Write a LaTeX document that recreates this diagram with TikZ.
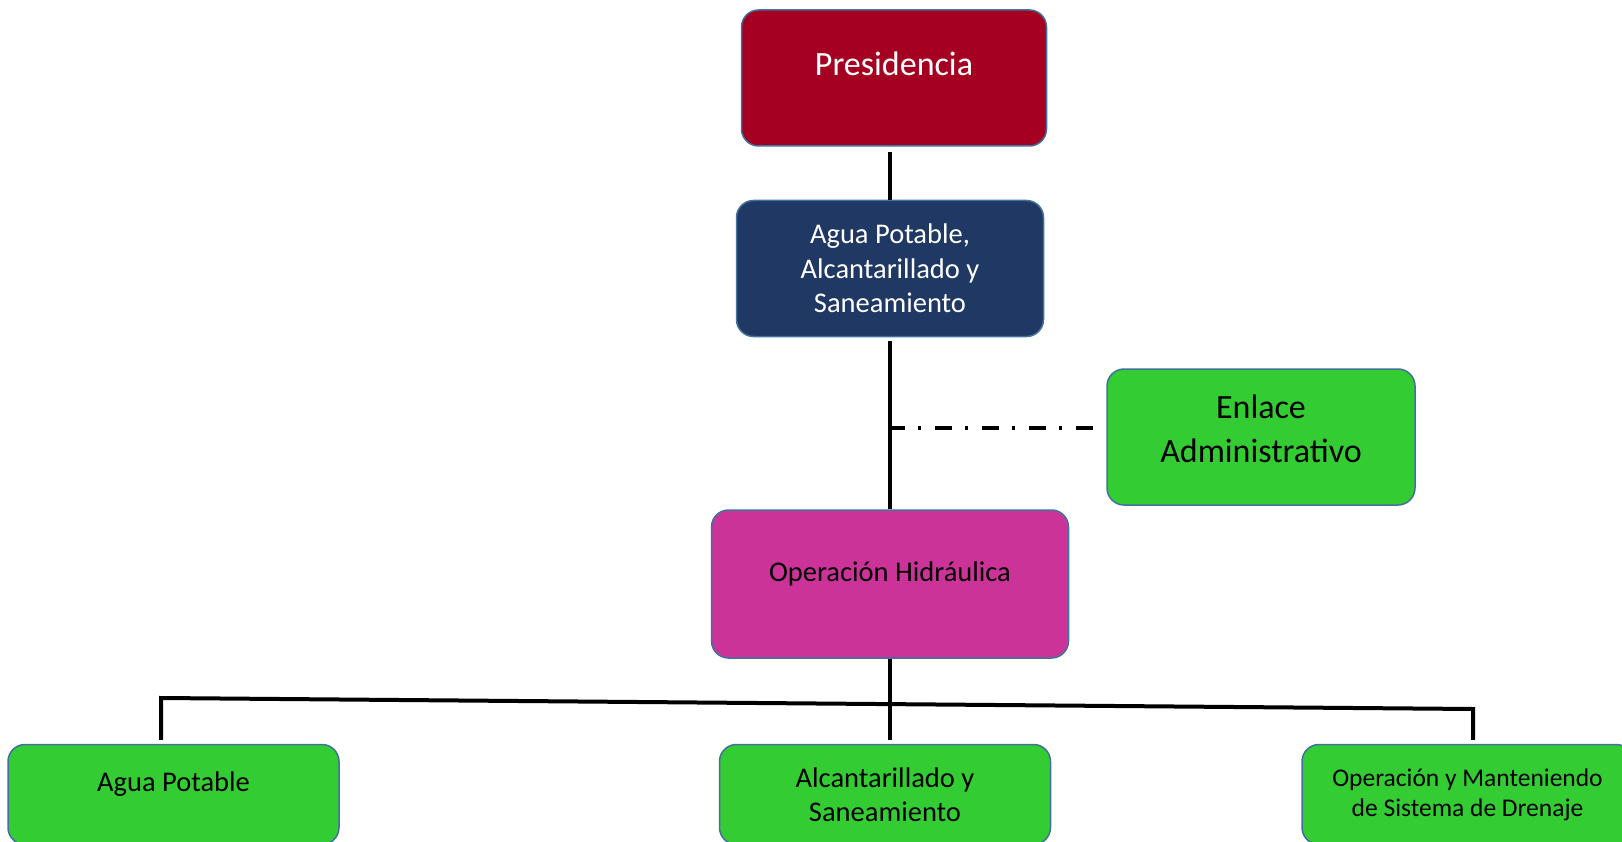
\documentclass[tikz,border=0pt]{standalone}
\usepackage{fontspec}
\setmainfont{Carlito}
\usetikzlibrary{positioning}

\definecolor{presred}{HTML}{A50021}
\definecolor{dirblue}{HTML}{203864}
\definecolor{unitgreen}{HTML}{33CC33}
\definecolor{opmagenta}{HTML}{CC3399}
\definecolor{boxedge}{HTML}{41719C}

\begin{document}
\begin{tikzpicture}[x=1pt, y=-1pt, node distance=53pt]

\tikzstyle{unit}=[rectangle, rounded corners=17pt, draw=boxedge,
  line width=1.5pt, inner sep=0pt, align=center]
\tikzstyle{presbox}=[unit, fill=presred, text=white, minimum width=305pt,
  font=\fontsize{34}{41}\selectfont, text height=66pt, text depth=70pt]
\tikzstyle{dirbox}=[unit, fill=dirblue, text=white, minimum width=307pt,
  minimum height=136pt, font=\fontsize{28.5}{34.5}\selectfont]
\tikzstyle{opbox}=[unit, fill=opmagenta, minimum width=357pt,
  font=\fontsize{28.5}{34.5}\selectfont, text height=71pt, text depth=77pt]
\tikzstyle{enlbox}=[unit, fill=unitgreen, minimum width=308pt,
  font=\fontsize{34}{44}\selectfont, text height=93pt, text depth=43pt]
\tikzstyle{subbox}=[unit, fill=unitgreen, minimum width=331pt,
  minimum height=100pt, font=\fontsize{28.5}{34}\selectfont]

\tikzstyle{link}=[line width=4pt, draw=black]
\tikzstyle{linkdash}=[line width=3.5pt, draw=black,
  dash pattern=on 17pt off 12.5pt on 3.5pt off 14pt, dash phase=2pt]

\useasboundingbox (0,0) rectangle (1622,842);

\node[presbox] (pres) at (894,78) {Presidencia};
\node[dirbox, below=of pres, xshift=-4pt] (aps) {Agua Potable,\\Alcantarillado y\\Saneamiento};
\draw[link, shorten <=5pt] (pres.south -| aps.north) -- (aps.north);

\node[opbox, below=172pt of aps] (oph) {Operación Hidráulica};
\draw[link, shorten <=4pt] (aps) -- (oph);

\node[enlbox] (enlace) at (1261,437) {Enlace\\Administrativo};
\coordinate (tap) at (890,428);
\draw[linkdash, shorten >=11pt] (tap) -- (tap -| enlace.west);

\node[subbox, below=85pt of oph, xshift=-5pt] (alc) {Alcantarillado y\\Saneamiento};
\node[subbox, left=379pt of alc, text height=47pt, text depth=53pt,
  minimum height=0pt] (agua) {Agua Potable};
\node[subbox, right=250pt of alc, font=\fontsize{25.5}{30}\selectfont] (oms)
  {Operación y Manteniendo\\de Sistema de Drenaje};

\coordinate (busL) at (161,698);
\coordinate (busR) at (1473,709);
\draw[link, shorten <=4pt, shorten >=4pt]
  (busL |- agua.north) -- (busL) -- (busR) -- (busR |- oms.north);
\draw[link, shorten >=4pt] (oph) -- (oph.south |- alc.north);

\end{tikzpicture}
\end{document}
